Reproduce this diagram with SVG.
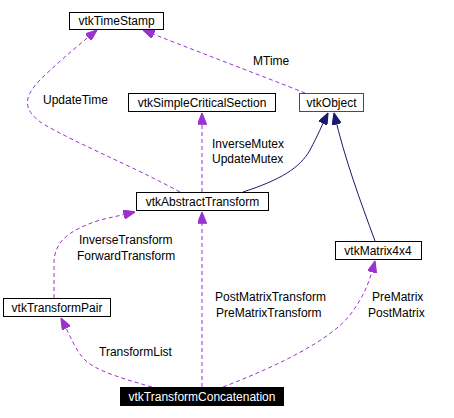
<svg xmlns="http://www.w3.org/2000/svg" width="454" height="418" viewBox="0 0 454 418">
<style>
text{font-family:"Liberation Sans",Arial,sans-serif;font-size:12px;fill:#000}
.box{fill:#fff;stroke:#000;stroke-width:1}
.c{text-anchor:middle}
.dep{fill:none;stroke:#9a32cd;stroke-width:1;stroke-dasharray:4,3;marker-end:url(#pa)}
.inh{fill:none;stroke:#191970;stroke-width:1;marker-end:url(#na)}
</style>
<defs>
<marker id="pa" viewBox="0 0 10 8" refX="10" refY="4" markerWidth="12" markerHeight="9" markerUnits="userSpaceOnUse" orient="auto"><path d="M0,0 L10,4 L0,8 z" fill="#9a32cd" stroke="#9a32cd"/></marker>
<marker id="na" viewBox="0 0 10 8" refX="10" refY="4" markerWidth="12" markerHeight="9" markerUnits="userSpaceOnUse" orient="auto"><path d="M0,0 L10,4 L0,8 z" fill="#191970" stroke="#191970"/></marker>
</defs>
<rect width="454" height="418" fill="#fff"/>
<g id="connectors">
<path class="dep" d="M305,93 C260,75 180,45 143,30"/>
<path class="dep" d="M180,192 C130,165 80,145 45,125 C20,110 25,95 40,80 C55,65 75,48 97,30"/>
<path class="dep" d="M202,192 L202,113"/>
<path class="inh" d="M243,192 C280,180 300,168 310,150 C318,135 322,125 328,113"/>
<path class="inh" d="M375,241 C360,200 345,160 334,113"/>
<path class="dep" d="M202,387 L202,212"/>
<path class="dep" d="M54,298 L54,260 C56,240 70,230 100,220 L135,212"/>
<path class="dep" d="M152,387 C120,378 95,370 85,360 C75,350 70,335 61,318"/>
<path class="dep" d="M223,387 C280,365 330,340 350,315 C365,295 370,280 375,261"/>
<text x="253" y="65">MTime</text>
<text x="43" y="104">UpdateTime</text>
<text x="212" y="148">InverseMutex</text>
<text x="212" y="163">UpdateMutex</text>
<text x="79" y="244">InverseTransform</text>
<text x="77" y="260">ForwardTransform</text>
<text x="215" y="301">PostMatrixTransform</text>
<text x="216" y="317">PreMatrixTransform</text>
<text x="372" y="301">PreMatrix</text>
<text x="368" y="317">PostMatrix</text>
<text x="99" y="356">TransformList</text>
</g>
<g id="vtkTimeStamp"><rect class="box" x="69.5" y="12.5" width="94" height="17"/><text class="c" x="116.5" y="25">vtkTimeStamp</text></g>
<g id="vtkSimpleCriticalSection"><rect class="box" x="128.5" y="93.5" width="147" height="18"/><text class="c" x="202" y="106.5">vtkSimpleCriticalSection</text></g>
<g id="vtkObject"><rect x="299.5" y="93.5" width="64" height="18" fill="#fff" stroke="#ff0000"/><text class="c" x="331.5" y="106.5">vtkObject</text></g>
<g id="vtkAbstractTransform"><rect class="box" x="136.5" y="192.5" width="132" height="18"/><text class="c" x="202.5" y="205.5">vtkAbstractTransform</text></g>
<g id="vtkMatrix4x4"><rect class="box" x="335.5" y="241.5" width="86" height="18"/><text class="c" x="378" y="254.5">vtkMatrix4x4</text></g>
<g id="vtkTransformPair"><rect class="box" x="3.5" y="298.5" width="107" height="18"/><text class="c" x="57" y="311.5">vtkTransformPair</text></g>
<g id="vtkTransformConcatenation"><rect x="120" y="387" width="164" height="19" fill="#000"/><text class="c" x="202" y="400.5" style="fill:#fff">vtkTransformConcatenation</text></g>
</svg>
